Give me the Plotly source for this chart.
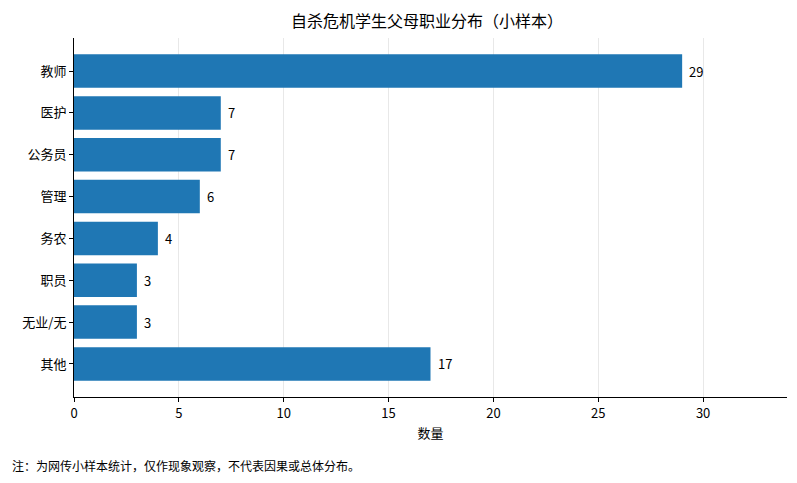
import plotly.graph_objects as go

categories = ["教师", "医护", "公务员", "管理", "务农", "职员", "无业/无", "其他"]
counts = [29, 7, 7, 6, 4, 3, 3, 17]
x_ticks = [0, 5, 10, 15, 20, 25, 30]

FONT = "Noto Sans CJK SC, Noto Sans, sans-serif"

fig = go.Figure()

fig.add_trace(
    go.Bar(
        x=counts,
        y=categories,
        orientation="h",
        width=0.8,
        marker=dict(color="#1f77b4", line=dict(width=0)),
        hoverinfo="x+y",
    )
)

# value labels just past the bar ends
for cat, val in zip(categories, counts):
    fig.add_annotation(
        x=val,
        y=cat,
        text=str(val),
        xanchor="left",
        yanchor="middle",
        xshift=5,
        showarrow=False,
        font=dict(size=13, family=FONT, color="#000000"),
    )

fig.add_annotation(
    text="注：为网传小样本统计，仅作现象观察，不代表因果或总体分布。",
    xref="paper",
    yref="paper",
    x=-0.09,
    y=-0.19,
    xanchor="left",
    yanchor="middle",
    showarrow=False,
    font=dict(size=12, family=FONT, color="#000000"),
)

# page body has an 8px margin, so size the figure to fit the window
fig.update_layout(
    width=789,
    height=475,
    margin=dict(l=66, r=10, t=30, b=86),
    paper_bgcolor="white",
    plot_bgcolor="white",
    font=dict(family=FONT, size=13, color="#000000"),
    showlegend=False,
    title=dict(
        text="自杀危机学生父母职业分布（小样本）",
        x=0.531,
        xanchor="center",
        y=0.972,
        yanchor="middle",
        font=dict(size=16, family=FONT, color="#000000"),
    ),
    xaxis=dict(
        range=[0, 34],
        tickvals=x_ticks,
        showgrid=True,
        gridcolor="#e8e8e8",
        gridwidth=1,
        zeroline=False,
        showline=True,
        linecolor="#000000",
        linewidth=1,
        ticks="outside",
        ticklen=4,
        tickcolor="#000000",
        tickfont=dict(size=13),
        automargin=False,
        title=dict(text="数量", font=dict(size=13), standoff=8),
    ),
    yaxis=dict(
        range=[7.79, -0.79],
        showgrid=False,
        zeroline=False,
        showline=True,
        linecolor="#000000",
        linewidth=1,
        ticks="outside",
        ticklen=4,
        tickcolor="#000000",
        tickfont=dict(size=13),
        automargin=False,
    ),
)

fig.write_html("out.html")
